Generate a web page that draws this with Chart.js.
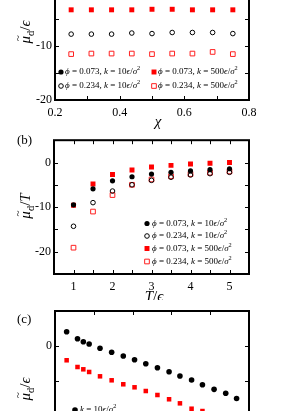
<!DOCTYPE html>
<html><head><meta charset="utf-8">
<script src="https://cdn.jsdelivr.net/npm/chart.js@4/dist/chart.umd.min.js"></script>
<style>
html,body{margin:0;padding:0;background:#fff;}
body{width:291px;height:411px;overflow:hidden;position:relative;}
.w{position:absolute;left:0;width:291px;}
canvas{display:block;}
</style></head><body>
<div class="w" style="top:-20px;height:150px"><canvas id="ca" width="291" height="150"></canvas></div>
<div class="w" style="top:130px;height:170px"><canvas id="cb" width="291" height="170"></canvas></div>
<div class="w" style="top:300px;height:200px"><canvas id="cc" width="291" height="200"></canvas></div>
<script>
// ---------------- DATA ----------------
// Panel (a): x = chi
const chiA = [0.25, 0.3125, 0.375, 0.4375, 0.5, 0.5625, 0.625, 0.6875, 0.75];
const a_phi073_k10  = [];   // lies above the visible part of the panel
const a_phi234_k10  = [-7.8, -7.8, -7.8, -7.6, -7.7, -7.5, -7.5, -7.5, -7.7];
const a_phi073_k500 = [-3.3, -3.3, -3.3, -3.3, -3.2, -3.2, -3.3, -3.3, -3.3];
const a_phi234_k500 = [-11.5, -11.4, -11.4, -11.4, -11.5, -11.4, -11.4, -11.1, -11.5];

// Panel (b): x = T/eps
const tB = [1, 1.5, 2, 2.5, 3, 3.5, 4, 4.5, 5];
const b_phi073_k10  = [-9.5, -5.9, -4.1, -3.2, -2.6, -2.2, -1.9, -1.6, -1.4];
const b_phi234_k10  = [-14.3, -9.0, -6.4, -5.0, -4.0, -3.3, -2.8, -2.5, -2.2];
const b_phi073_k500 = [-9.6, -4.8, -2.7, -1.7, -1.0, -0.65, -0.35, -0.15, 0.0];
const b_phi234_k500 = [-19.1, -11.0, -7.3, -5.0, -3.8, -3.1, -2.6, -2.3, -2.0];

// Panel (c)
const xC = [0.3, 0.58, 0.73, 0.88, 1.16, 1.46, 1.76, 2.05, 2.34, 2.64, 2.94, 3.22, 3.52, 3.80, 4.10, 4.40, 4.68];
const c_k10  = [2.04, 1.04, 0.61, 0.29, -0.33, -0.9, -1.43, -1.96, -2.53, -3.1, -3.67, -4.29, -4.86, -5.53, -6.19, -6.76, -7.5];
const c_k500 = [-2.04, -3.0, -3.33, -3.71, -4.33, -4.9, -5.47, -5.9, -6.43, -7.0, -7.61, -8.19, -8.96, -9.29];

const phiLabels = ['0.073', '0.234'];
const kLabels = ['10', '500'];
const yTicksA = {min: -20, max: 0, step: 5};
const xTicksA = {min: 0.2, max: 0.8, step: 0.1};
const yTicksB = {min: -25, max: 5, step: 5};
const xTicksB = {min: 0.5, max: 5.5, step: 0.5};
const yTicksC = {min: -20, max: 5, step: 5};
const xTicksC = {min: 0, max: 5, step: 1};

// ---------------- HELPERS ----------------
const FF = '"Liberation Serif","DejaVu Serif",serif';
const pts = (xs, ys) => ys.map((y, i) => ({x: xs[i], y}));

const STY = {
  fc: {pointStyle: 'circle', pointRadius: 2.6, backgroundColor: '#000', borderColor: '#000', borderWidth: 0},
  oc: {pointStyle: 'circle', pointRadius: 2.3, backgroundColor: 'rgba(0,0,0,0)', borderColor: '#000', borderWidth: 1},
  fs: {pointStyle: 'rect', pointRadius: 3.5, backgroundColor: '#ff0000', borderColor: '#ff0000', borderWidth: 0},
  os: {pointStyle: 'rect', pointRadius: 3.3, backgroundColor: 'rgba(0,0,0,0)', borderColor: '#ff2020', borderWidth: 1}
};
function ds(label, data, sty, extra) {
  return Object.assign({label, data, showLine: false}, STY[sty], {pointHoverRadius: STY[sty].pointRadius}, extra || {});
}
function legSegs(phi, k) {
  const s = [];
  if (phi !== null) { s.push({t: 'ϕ', i: 1}, {t: ' = ' + phi + ', '}); }
  s.push({t: 'k', i: 1}, {t: ' = ' + k}, {t: 'ϵ', i: 1}, {t: '/'}, {t: 'σ', i: 1}, {t: '2', sup: 1});
  return s;
}
function fontOf(s, size) {
  const sz = (s.sub || s.sup) ? size * 0.7 : size;
  return (s.i ? 'italic ' : '') + sz.toFixed(2) + 'px ' + FF;
}
function mathW(ctx, segs, size) {
  let w = 0;
  for (const s of segs) { ctx.font = fontOf(s, size); w += ctx.measureText(s.t).width; }
  return w;
}
function drawMath(ctx, segs, x, y, size, align) {
  const w = mathW(ctx, segs, size);
  let cx = align === 'center' ? x - w / 2 : x;
  ctx.textBaseline = 'middle'; ctx.textAlign = 'left'; ctx.fillStyle = '#000';
  for (const s of segs) {
    ctx.font = fontOf(s, size);
    const dy = s.sub ? size * 0.32 : (s.sup ? -size * 0.38 : 0);
    ctx.fillText(s.t, cx, y + dy);
    const mw = ctx.measureText(s.t).width;
    if (s.tilde) {
      ctx.font = (size * 0.75).toFixed(2) + 'px ' + FF;
      ctx.textAlign = 'center';
      ctx.fillText('~', cx + mw / 2 + size * 0.1, y - size * 0.5);
      ctx.textAlign = 'left';
    }
    cx += mw;
  }
}
const yTitleSegs = (den) => [{t: 'μ', i: 1, tilde: 1}, {t: 'd', sub: 1}, {t: '/'}, {t: den, i: 1}];

const decoPlugin = {
  id: 'deco',
  afterDraw(chart, args, o) {
    const ctx = chart.ctx;
    const off = o.pageTop;
    const {left, right, top, bottom} = chart.chartArea;
    ctx.save();
    // inward ticks on all sides
    ctx.strokeStyle = '#000'; ctx.lineWidth = 1;
    const L = 4;
    const xs = chart.scales.x, ys = chart.scales.y;
    ctx.beginPath();
    xs.ticks.forEach(t => {
      const px = Math.round(xs.getPixelForValue(t.value)) + 0.5;
      ctx.moveTo(px, bottom); ctx.lineTo(px, bottom - L);
      ctx.moveTo(px, top); ctx.lineTo(px, top + L);
    });
    ys.ticks.forEach(t => {
      const py = Math.round(ys.getPixelForValue(t.value)) + 0.5;
      ctx.moveTo(left, py); ctx.lineTo(left + L, py);
      ctx.moveTo(right, py); ctx.lineTo(right - L, py);
    });
    ctx.stroke();
    // frame
    ctx.lineWidth = 2;
    ctx.strokeRect(left, top, right - left, bottom - top);
    // axis titles
    if (o.yTitle) {
      ctx.save();
      ctx.translate(o.yTitle.x, o.yTitle.y - off);
      ctx.rotate(-Math.PI / 2);
      drawMath(ctx, o.yTitle.segs, 0, 0, o.yTitle.size, 'center');
      ctx.restore();
    }
    if (o.xTitle) drawMath(ctx, o.xTitle.segs, o.xTitle.x, o.xTitle.y - off, o.xTitle.size, 'center');
    if (o.panel) {
      ctx.font = o.panel.size + 'px ' + FF; ctx.fillStyle = '#000';
      ctx.textAlign = 'left'; ctx.textBaseline = 'middle';
      ctx.fillText(o.panel.t, o.panel.x, o.panel.y - off);
    }
    // legend
    (o.legend || []).forEach(it => {
      const d = chart.data.datasets[it.ds];
      ctx.save();
      ctx.fillStyle = d.backgroundColor; ctx.strokeStyle = d.borderColor;
      ctx.lineWidth = d.borderWidth;
      Chart.helpers.drawPoint(ctx, {pointStyle: d.pointStyle, radius: d.pointRadius, borderWidth: d.borderWidth, rotation: 0}, it.mx, it.y - off);
      ctx.restore();
      drawMath(ctx, it.segs, it.tx, it.y - off, o.legendSize, 'left');
    });
    ctx.restore();
  }
};

function scaleX(t, h, labelFn, pad) {
  return {type: 'linear', min: t.min, max: t.max,
    grid: {display: false, drawTicks: false}, border: {display: false},
    ticks: {stepSize: t.step, autoSkip: false, maxRotation: 0, padding: pad, color: '#000',
      font: {family: FF, size: 12}, callback: labelFn},
    afterFit(s) { s.height = h; }};
}
function scaleY(t, w, labelFn, pad) {
  return {type: 'linear', min: t.min, max: t.max,
    grid: {display: false, drawTicks: false}, border: {display: false},
    ticks: {stepSize: t.step, autoSkip: false, padding: pad, color: '#000',
      font: {family: FF, size: 12}, callback: labelFn},
    afterFit(s) { s.width = w; }};
}
const every10 = v => (Math.round(v) % 10 === 0 ? String(Math.round(v)) : '');
const baseOpts = (padTop, padRight) => ({
  responsive: false, animation: false, devicePixelRatio: 1,
  layout: {padding: {top: padTop, right: padRight, left: 0, bottom: 0}},
  plugins: {legend: {display: false}, tooltip: {enabled: false}}
});

// ---------------- PANEL (a) ----------------
{
  const o = baseOpts(12, 42);
  o.scales = {
    x: scaleX(xTicksA, 30, v => (Math.round(v * 10) % 2 === 0 ? v.toFixed(1) : ''), 6),
    y: scaleY(yTicksA, 55, every10, 3)
  };
  o.plugins.deco = {
    pageTop: -20, legendSize: 9,
    yTitle: {segs: yTitleSegs('ϵ'), x: 26, y: 32, size: 15},
    xTitle: {segs: [{t: 'χ', i: 1}], x: 158, y: 122, size: 15},
    legend: [
      {ds: 0, mx: 61, tx: 65, y: 72, segs: legSegs(phiLabels[0], kLabels[0])},
      {ds: 1, mx: 61, tx: 65, y: 86, segs: legSegs(phiLabels[1], kLabels[0])},
      {ds: 2, mx: 154, tx: 158, y: 72, segs: legSegs(phiLabels[0], kLabels[1])},
      {ds: 3, mx: 154, tx: 158, y: 86, segs: legSegs(phiLabels[1], kLabels[1])}
    ]
  };
  new Chart(document.getElementById('ca'), {
    type: 'scatter',
    data: {datasets: [
      ds('phi=0.073, k=10', pts(chiA, a_phi073_k10), 'fc'),
      ds('phi=0.234, k=10', pts(chiA, a_phi234_k10), 'oc'),
      ds('phi=0.073, k=500', pts(chiA, a_phi073_k500), 'fs'),
      ds('phi=0.234, k=500', pts(chiA, a_phi234_k500), 'os')
    ]},
    options: o, plugins: [decoPlugin]
  });
}

// ---------------- PANEL (b) ----------------
{
  const o = baseOpts(5, 42);
  o.scales = {
    x: scaleX(xTicksB, 26, v => (Math.abs(v - Math.round(v)) < 1e-6 ? String(Math.round(v)) : ''), 6),
    y: scaleY(yTicksB, 54, every10, 3)
  };
  o.plugins.deco = {
    pageTop: 130, legendSize: 9,
    yTitle: {segs: yTitleSegs('T'), x: 26, y: 206, size: 15},
    xTitle: {segs: [{t: 'T', i: 1}, {t: '/'}, {t: 'ϵ', i: 1}], x: 154, y: 297, size: 15},
    panel: {t: '(b)', x: 17, y: 141, size: 13},
    legend: [
      {ds: 0, mx: 147, tx: 152, y: 223.5, segs: legSegs(phiLabels[0], kLabels[0])},
      {ds: 1, mx: 147, tx: 152, y: 236, segs: legSegs(phiLabels[1], kLabels[0])},
      {ds: 2, mx: 147, tx: 152, y: 248.5, segs: legSegs(phiLabels[0], kLabels[1])},
      {ds: 3, mx: 147, tx: 152, y: 261.5, segs: legSegs(phiLabels[1], kLabels[1])}
    ]
  };
  new Chart(document.getElementById('cb'), {
    type: 'scatter',
    data: {datasets: [
      ds('phi=0.073, k=10', pts(tB, b_phi073_k10), 'fc'),
      ds('phi=0.234, k=10', pts(tB, b_phi234_k10), 'oc'),
      ds('phi=0.073, k=500', pts(tB, b_phi073_k500), 'fs'),
      ds('phi=0.234, k=500', pts(tB, b_phi234_k500), 'os')
    ]},
    options: o, plugins: [decoPlugin]
  });
}

// ---------------- PANEL (c) ----------------
{
  const o = baseOpts(11, 42);
  o.scales = {
    x: scaleX(xTicksC, 14, v => String(v), 6),
    y: scaleY(yTicksC, 55, every10, 3)
  };
  o.plugins.deco = {
    pageTop: 300, legendSize: 9,
    yTitle: {segs: yTitleSegs('ϵ'), x: 26, y: 389, size: 15},
    panel: {t: '(c)', x: 17, y: 320, size: 13},
    legend: [
      {ds: 0, mx: 75, tx: 80, y: 410, segs: legSegs(null, kLabels[0])}
    ]
  };
  new Chart(document.getElementById('cc'), {
    type: 'scatter',
    data: {datasets: [
      ds('k=10', pts(xC, c_k10), 'fc', {pointRadius: 2.8}),
      ds('k=500', pts(xC, c_k500), 'fs', {pointRadius: 3.2})
    ]},
    options: o, plugins: [decoPlugin]
  });
}
</script>
</body></html>
